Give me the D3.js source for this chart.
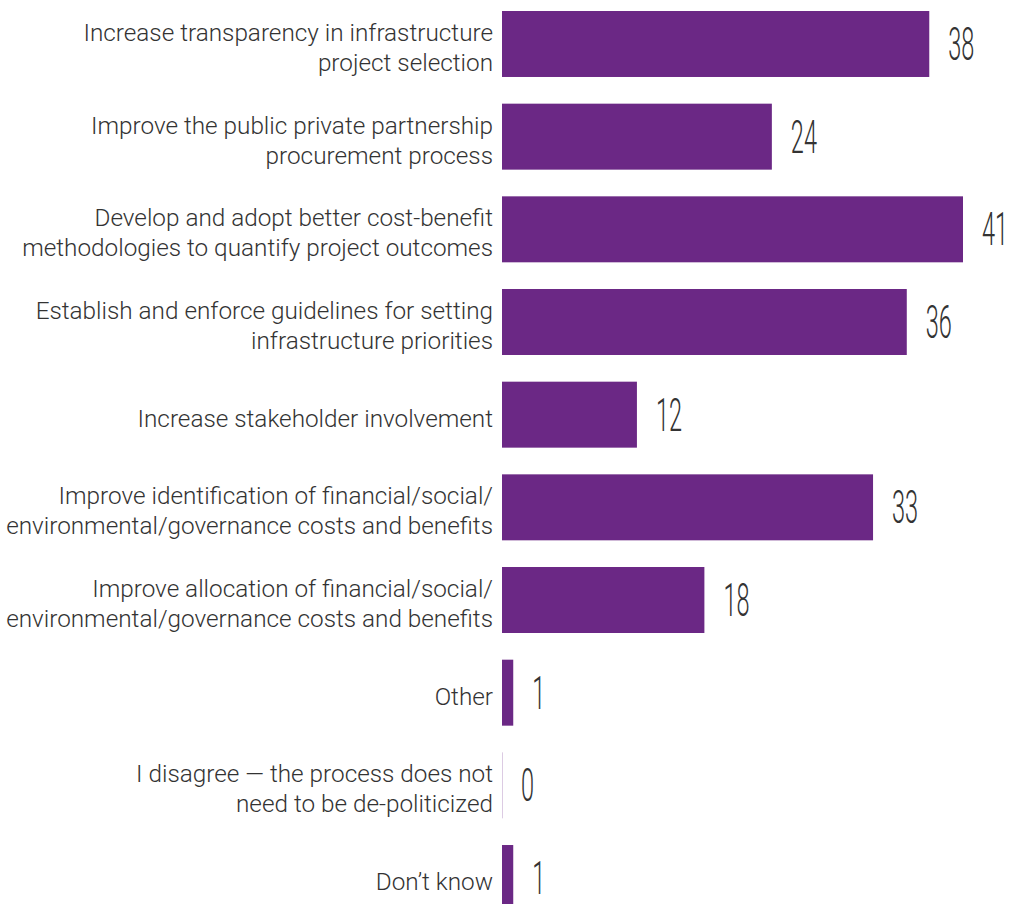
<!DOCTYPE html>
<html>
<head>
<meta charset="utf-8">
<script src="https://cdn.jsdelivr.net/npm/d3@7"></script>
<style>
  html, body { margin: 0; padding: 0; background: #fff; }
  svg { display: block; }
</style>
</head>
<body>
<svg id="chart" width="1012" height="904"></svg>
<script>
const categories = [
  "Increase transparency in infrastructure\nproject selection",
  "Improve the public private partnership\nprocurement process",
  "Develop and adopt better cost-benefit\nmethodologies to quantify project outcomes",
  "Establish and enforce guidelines for setting\ninfrastructure priorities",
  "Increase stakeholder involvement",
  "Improve identification of financial/social/\nenvironmental/governance costs and benefits",
  "Improve allocation of financial/social/\nenvironmental/governance costs and benefits",
  "Other",
  "I disagree \u2014 the process does not\nneed to be de-politicized",
  "Don\u2019t know"
];
const values = [38, 24, 41, 36, 12, 33, 18, 1, 0, 1];

const svg = d3.select("#chart");
const x0 = 502;
const x = d3.scaleLinear().domain([0, 41]).range([x0, 963]);
const y = d3.scaleBand().domain(categories).range([11, 911]).paddingInner(0.288).paddingOuter(0);

const data = categories.map((c, i) => ({ c, v: values[i] }));

// bars
svg.selectAll("rect.bar").data(data.filter(d => d.v > 0)).join("rect")
  .attr("class", "bar")
  .attr("x", x(0))
  .attr("y", d => y(d.c))
  .attr("width", d => x(d.v) - x(0))
  .attr("height", y.bandwidth())
  .attr("fill", "#6b2885");

// zero bar line
svg.selectAll("line.zero").data(data.filter(d => d.v === 0)).join("line")
  .attr("class", "zero")
  .attr("x1", x(0) + 0.5).attr("x2", x(0) + 0.5)
  .attr("y1", d => y(d.c)).attr("y2", d => y(d.c) + y.bandwidth())
  .attr("stroke", "#dccbe3").attr("stroke-width", 1);

// category labels
const lh = 30;
svg.selectAll("text.cat").data(data).join("text")
  .attr("class", "cat")
  .attr("text-anchor", "end")
  .attr("font-family", "Roboto, 'Liberation Sans', sans-serif")
  .attr("font-weight", 300)
  .attr("font-size", 24.3)
  .attr("fill", "#333")
  .each(function(d) {
    const lines = d.c.split("\n");
    const cy = y(d.c) + y.bandwidth() / 2;
    const start = cy - (lines.length - 1) * lh / 2 + 12;
    d3.select(this).selectAll("tspan").data(lines).join("tspan")
      .attr("x", 493)
      .attr("y", (l, i) => start + i * lh)
      .text(l => l);
  });

// value labels (condensed light digits)
svg.selectAll("text.val").data(data).join("text")
  .attr("class", "val")
  .attr("font-family", "Roboto, 'Liberation Sans', sans-serif")
  .attr("font-weight", 300)
  .attr("font-size", 47)
  .attr("fill", "#333")
  .attr("transform", d => `translate(${x(d.v) + 19},${y(d.c) + y.bandwidth() / 2 + 16}) scale(0.5,1)`)
  .text(d => d.v);
</script>
</body>
</html>
